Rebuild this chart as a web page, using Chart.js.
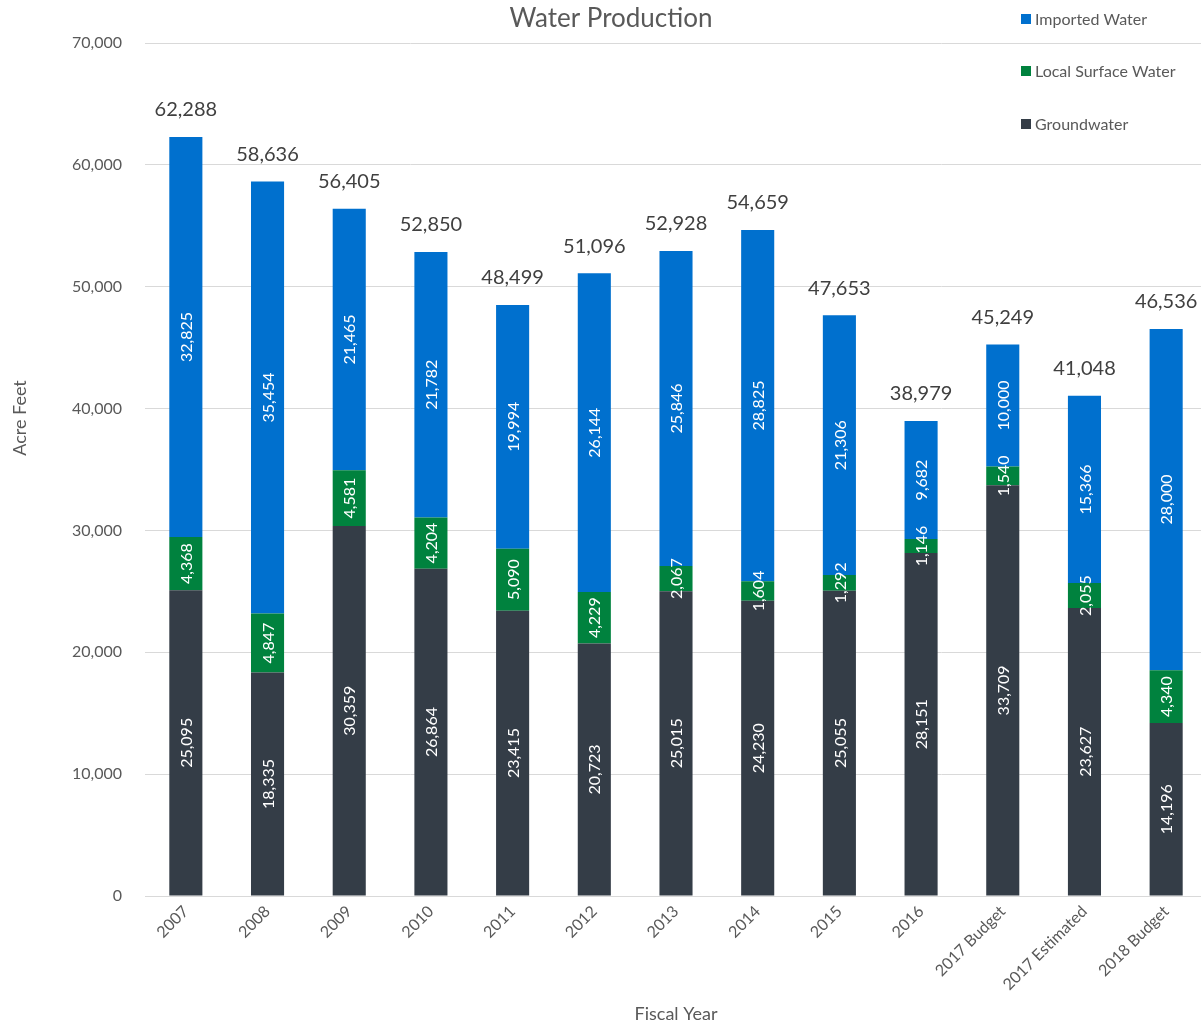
<!DOCTYPE html>
<html>
<head>
<meta charset="utf-8">
<title>Water Production</title>
<script src="https://cdn.jsdelivr.net/npm/chart.js@4.4.1/dist/chart.umd.min.js"></script>
<style>
  html, body { margin: 0; padding: 0; background: #fff; overflow: hidden; }
  body { width: 1201px; height: 1027px; }
  #wrap { width: 1207px; height: 1027px; position: relative; }
</style>
</head>
<body>
<div id="wrap"><canvas id="waterChart"></canvas></div>
<script>
// fiscal years on the x axis
var years = ["2007", "2008", "2009", "2010", "2011", "2012", "2013", "2014", "2015", "2016",
	"2017 Budget", "2017 Estimated", "2018 Budget"];

// acre feet by source
var groundwater = [25095, 18335, 30359, 26864, 23415, 20723, 25015, 24230, 25055, 28151, 33709, 23627, 14196];
var localSurface = [4368, 4847, 4581, 4204, 5090, 4229, 2067, 1604, 1292, 1146, 1540, 2055, 4340];
var imported = [32825, 35454, 21465, 21782, 19994, 26144, 25846, 28825, 21306, 9682, 10000, 15366, 28000];

var yTicks = [0, 10000, 20000, 30000, 40000, 50000, 60000, 70000];

var colors = {
	imported: 'rgb(0, 112, 206)',
	local: 'rgb(0, 130, 62)',
	ground: 'rgb(52, 61, 71)',
	text: '#595959',
	grid: '#d9d9d9'
};
var fontFamily = 'Lato, "Open Sans", sans-serif';

function fmt(v) {
	return v.toLocaleString('en-US');
}

// labels inside the segments, totals on top, plus title / legend / y title
var extrasPlugin = {
	id: 'extras',
	afterDatasetsDraw: function(chart) {
		var ctx = chart.ctx;
		ctx.save();
		ctx.fillStyle = '#fff';
		ctx.font = '16px ' + fontFamily;
		ctx.textAlign = 'center';
		ctx.textBaseline = 'middle';
		chart.data.datasets.forEach(function(ds, i) {
			var meta = chart.getDatasetMeta(i);
			meta.data.forEach(function(bar, j) {
				var mid = (bar.y + bar.base) / 2;
				ctx.save();
				ctx.translate(bar.x, mid);
				ctx.rotate(-Math.PI / 2);
				ctx.fillText(fmt(ds.data[j]), 0, 1);
				ctx.restore();
			});
		});

		// totals
		var top = chart.getDatasetMeta(chart.data.datasets.length - 1);
		ctx.fillStyle = '#404040';
		ctx.font = '20px ' + fontFamily;
		top.data.forEach(function(bar, j) {
			var total = groundwater[j] + localSurface[j] + imported[j];
			ctx.fillText(fmt(total), bar.x, bar.y - 27);
		});
		ctx.restore();
	},
	afterDraw: function(chart) {
		var ctx = chart.ctx;
		ctx.save();
		ctx.fillStyle = colors.text;
		ctx.textBaseline = 'middle';

		// title
		ctx.textAlign = 'center';
		ctx.font = '26px ' + fontFamily;
		ctx.fillText('Water Production', 611, 19);

		// y axis title
		ctx.font = '18px ' + fontFamily;
		ctx.save();
		ctx.translate(20, 418);
		ctx.rotate(-Math.PI / 2);
		ctx.fillText('Acre Feet', 0, 0);
		ctx.restore();

		// legend, top series first
		var items = [
			{ text: 'Imported Water', color: colors.imported, y: 19 },
			{ text: 'Local Surface Water', color: colors.local, y: 71 },
			{ text: 'Groundwater', color: colors.ground, y: 124 }
		];
		ctx.textAlign = 'left';
		ctx.font = '16px ' + fontFamily;
		items.forEach(function(it) {
			ctx.fillStyle = it.color;
			ctx.fillRect(1021, it.y - 5, 10, 10);
			ctx.fillStyle = colors.text;
			ctx.fillText(it.text, 1035, it.y + 1);
		});
		ctx.restore();
	}
};

var config = {
	type: 'bar',
	data: {
		labels: years,
		datasets: [{
			label: 'Groundwater',
			data: groundwater,
			backgroundColor: colors.ground
		}, {
			label: 'Local Surface Water',
			data: localSurface,
			backgroundColor: colors.local
		}, {
			label: 'Imported Water',
			data: imported,
			backgroundColor: colors.imported
		}]
	},
	options: {
		responsive: true,
		maintainAspectRatio: false,
		animation: false,
		datasets: {
			bar: {
				categoryPercentage: 1.0,
				barPercentage: 0.405
			}
		},
		layout: {
			padding: { top: 43, left: 0, right: 0, bottom: 0 }
		},
		plugins: {
			legend: { display: false },
			title: { display: false },
			tooltip: { enabled: false }
		},
		scales: {
			x: {
				stacked: true,
				grid: { display: false, drawTicks: false },
				border: { display: true, color: colors.grid, width: 1 },
				ticks: {
					color: colors.text,
					font: { family: fontFamily, size: 16 },
					minRotation: 45,
					maxRotation: 45,
					padding: 6,
					autoSkip: false
				},
				title: {
					display: true,
					text: 'Fiscal Year',
					color: colors.text,
					font: { family: fontFamily, size: 18 },
					padding: { top: 4, bottom: 2 }
				},
				afterFit: function(scale) {
					scale.height = 131;
				}
			},
			y: {
				stacked: true,
				min: 0,
				max: 70000,
				afterBuildTicks: function(scale) {
					scale.ticks = yTicks.map(function(v) { return { value: v }; });
				},
				grid: { color: colors.grid, drawTicks: false },
				border: { display: false },
				ticks: {
					color: colors.text,
					font: { family: fontFamily, size: 16 },
					padding: 23,
					callback: function(v) { return fmt(v); }
				},
				afterFit: function(scale) {
					scale.width = 145;
				}
			}
		}
	},
	plugins: [extrasPlugin]
};

window.waterChart = new Chart(document.getElementById('waterChart'), config);
</script>
</body>
</html>
